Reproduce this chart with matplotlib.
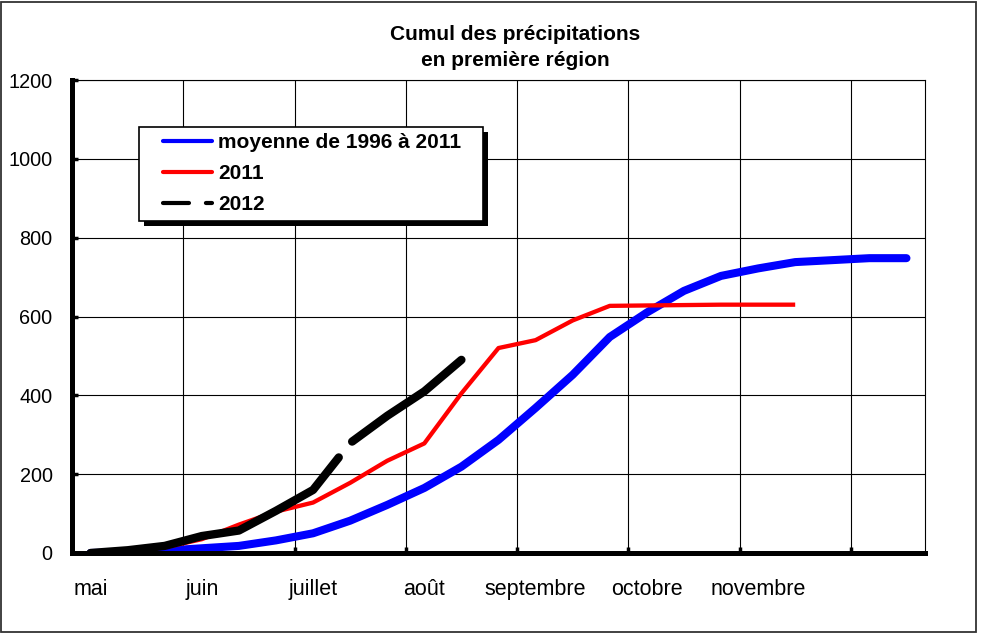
import numpy as np
import matplotlib
matplotlib.use("Agg")
import matplotlib.pyplot as plt
from matplotlib.lines import Line2D
from matplotlib.patches import Rectangle

# ---- data (10-day periods from May) ----
months = ["mai", "juin", "juillet", "août", "septembre", "octobre", "novembre"]
n_periods = 23
moyenne = [0, 2, 6, 12, 18, 32, 50, 82, 122, 165, 219, 287, 368, 452, 548,
           610, 665, 703, 722, 738, 743, 748, 748]
cumul_2011 = [0, 6, 14, 35, 72, 105, 128, 178, 234, 278, 405, 520, 540, 590,
              627, 628, 629, 630, 630, 630]
cumul_2012 = [0, 7, 18, 43, 57, 107, 160, 279, 348, 410, 490]
yticks = [0, 200, 400, 600, 800, 1000, 1200]
labels = ["moyenne de 1996 à 2011", "2011", "2012"]
title = "Cumul des précipitations\nen première région"

plt.rcParams["font.family"] = ["Liberation Sans", "DejaVu Sans"]
plt.rcParams["lines.scale_dashes"] = False

W, H, DPI = 981, 633, 100
fig = plt.figure(figsize=(W / DPI, H / DPI), dpi=DPI)
fig.patch.set_facecolor("white")
ax = fig.add_axes([72 / W, 1 - 553 / H, 853 / W, 473 / H])

x = np.arange(n_periods)
ax.plot(x, moyenne, color="#0000FF", lw=5.8, solid_capstyle="round",
        solid_joinstyle="round", zorder=2)
ax.plot(x[:len(cumul_2011)], cumul_2011, color="#FF0000", lw=3.1,
        solid_capstyle="butt", solid_joinstyle="round", zorder=2.1)
ax.plot(x[:len(cumul_2012)], cumul_2012, color="black", lw=6,
        dashes=(199, 15, 2000, 15), dash_capstyle="round",
        dash_joinstyle="round", zorder=2.2)

# axes
ax.set_xlim(-0.5, n_periods - 0.5)
ax.set_ylim(0, 1200)
ax.set_xticks(np.arange(2.5, n_periods - 1, 3))
ax.set_xticklabels([])
ax.set_xticks(np.arange(0, 3 * len(months), 3), minor=True)
ax.set_xticklabels(months, minor=True)
ax.set_yticks(yticks)
ax.set_yticklabels([str(v) for v in yticks])

ax.tick_params(axis="x", which="major", direction="in", length=4, width=2.5)
ax.tick_params(axis="x", which="minor", length=0, labelsize=15.5, pad=18.5)
ax.tick_params(axis="y", which="major", direction="in", length=4, width=2.5,
               labelsize=14.3, pad=14)
ax.set_axisbelow(True)
ax.grid(True, which="major", color="black", lw=0.8)

for side in ("left", "bottom"):
    ax.spines[side].set_linewidth(3.6)
    ax.spines[side].set_color("black")
for side in ("top", "right"):
    ax.spines[side].set_linewidth(0.8)
    ax.spines[side].set_color("black")

ax.set_title(title, fontsize=15, fontweight="bold", x=(515 - 72) / 853,
             pad=10, linespacing=1.45)

# legend
handles = [
    Line2D([], [], color="#0000FF", lw=3, solid_capstyle="round"),
    Line2D([], [], color="#FF0000", lw=3, solid_capstyle="round"),
    Line2D([], [], color="black", lw=3, dashes=(18.7, 12.2, 60, 5),
           dash_capstyle="round"),
]
leg = ax.legend(handles, labels, loc="upper left",
                bbox_to_anchor=((156.5 - 72) / 853, (553 - 127) / 473),
                borderaxespad=0, frameon=False,
                prop={"weight": "bold", "size": 15},
                handlelength=2.35, handletextpad=0.3, labelspacing=0.58,
                borderpad=0.3)
leg.set_zorder(6)

fig.canvas.draw()
ext = leg.get_window_extent(fig.canvas.get_renderer())
x0, x1 = ext.x0 - 18, ext.x1 + 16
y0, y1 = ext.y0, ext.y1
inv = ax.transAxes.inverted()
(ax0, ay0), (ax1, ay1) = inv.transform([(x0, y0), (x1, y1)])
(sx0, sy0), _ = inv.transform([(x0 + 5, y0 - 5), (x1 + 5, y1 - 5)])
ax.add_patch(Rectangle((sx0, sy0), ax1 - ax0, ay1 - ay0, transform=ax.transAxes,
                       facecolor="black", edgecolor="black", lw=0,
                       zorder=4, clip_on=False))
ax.add_patch(Rectangle((ax0, ay0), ax1 - ax0, ay1 - ay0, transform=ax.transAxes,
                       facecolor="white", edgecolor="black", lw=1.2,
                       zorder=5, clip_on=False))

# outer frame
fig.patches.append(Rectangle((1 / W, 1 / H), 975 / W, 630 / H,
                             transform=fig.transFigure, fill=False,
                             edgecolor="#333333", lw=1.3))

fig.savefig("out.png", dpi=DPI, facecolor="white")
